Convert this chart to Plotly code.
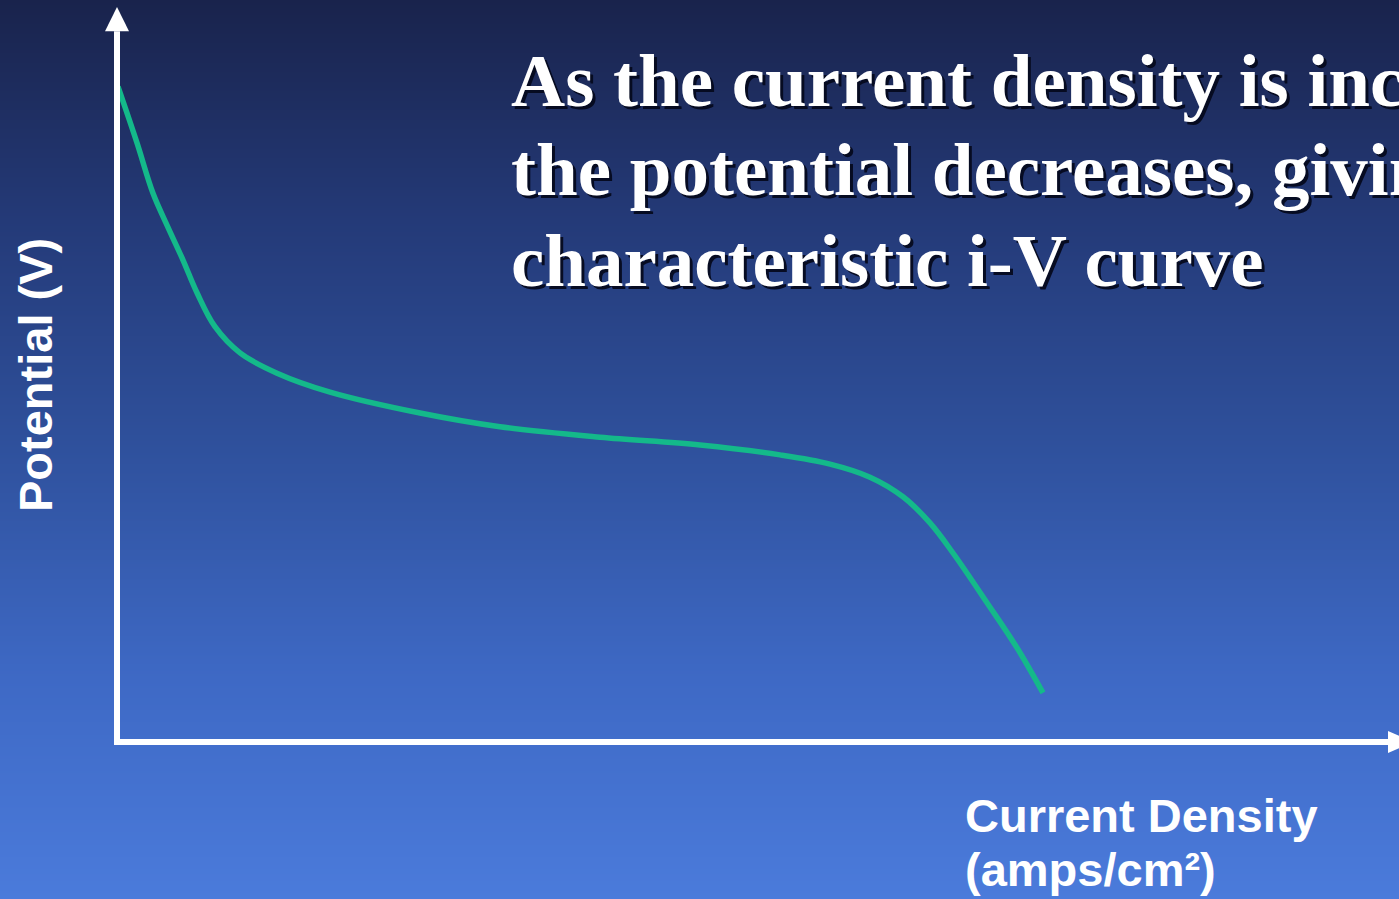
import plotly.graph_objects as go

# i-V curve of a fuel cell (current density in A/cm^2, potential in V)
current_density = [0.001, 0.020, 0.036, 0.051, 0.066, 0.080, 0.098, 0.123, 0.160, 0.213,
                   0.303, 0.383, 0.483, 0.583, 0.663, 0.713, 0.753, 0.786, 0.813, 0.836,
                   0.870, 0.900, 0.926]
potential = [1.002, 0.916, 0.839, 0.787, 0.737, 0.687, 0.635, 0.595, 0.564, 0.535,
             0.503, 0.482, 0.466, 0.454, 0.439, 0.425, 0.405, 0.375, 0.335, 0.289,
             0.213, 0.144, 0.075]

title_lines = ["As the current density is increased,",
               "the potential decreases, giving a",
               "characteristic i-V curve"]
x_title_lines = ["Current Density", "(amps/cm²)"]
y_title = "Potential (V)"

W, H = 1399, 899
X_RANGE = [-0.117, 1.282]
Y_RANGE = [-0.2401, 1.1346]

# background gradient (dark navy at top to bright blue at bottom)
bg_scale = [[0.0, "#4b7bdb"], [0.245, "#3e69c5"], [0.5, "#2f519d"],
            [0.755, "#243a78"], [1.0, "#19234c"]]
n_rows = 40
bg_y = [Y_RANGE[0] + (Y_RANGE[1] - Y_RANGE[0]) * i / (n_rows - 1) for i in range(n_rows)]
bg_z = [[i / (n_rows - 1)] * 2 for i in range(n_rows)]

fig = go.Figure()
fig.add_trace(go.Heatmap(x=[X_RANGE[0] - 0.05, X_RANGE[1] + 0.05], y=bg_y, z=bg_z,
                         colorscale=bg_scale, zmin=0, zmax=1, zsmooth="best",
                         showscale=False, hoverinfo="skip"))
fig.add_trace(go.Scatter(x=current_density, y=potential, mode="lines",
                         line=dict(color="#14b98a", width=5.5, shape="spline", smoothing=1.0),
                         hoverinfo="skip"))

white = "#ffffff"
# axes with arrowheads
fig.add_shape(type="line", x0=0, x1=0, y0=-0.004, y1=1.087, xref="x", yref="y",
              line=dict(color=white, width=6))
fig.add_shape(type="path", path="M -0.012 1.087 L 0.012 1.087 L 0 1.124 Z",
              xref="x", yref="y", fillcolor=white, line=dict(width=0))
fig.add_shape(type="line", x0=-0.003, x1=1.271, y0=0, y1=0, xref="x", yref="y",
              line=dict(color=white, width=6))
fig.add_shape(type="path", path="M 1.271 -0.0168 L 1.271 0.0168 L 1.296 0 Z",
              xref="x", yref="y", fillcolor=white, line=dict(width=0))

serif = dict(family="Liberation Serif", size=75, color=white, weight="bold",
             shadow="3px 3px 0px rgba(5,10,30,0.95)")
for line, yc in zip(title_lines, [81, 170, 260]):
    fig.add_annotation(text=line, xref="paper", yref="paper", x=509 / W, y=1 - yc / H,
                       xanchor="left", yanchor="middle", showarrow=False, font=serif)

sans = dict(family="Liberation Sans", size=47, color=white, weight="bold")
for line, yc in zip(x_title_lines, [815, 869]):
    fig.add_annotation(text=line, xref="paper", yref="paper", x=963 / W, y=1 - yc / H,
                       xanchor="left", yanchor="middle", showarrow=False, font=sans)
fig.add_annotation(text=y_title, xref="paper", yref="paper", x=35 / W, y=1 - 375 / H,
                   xanchor="center", yanchor="middle", textangle=-90, showarrow=False, font=sans)

fig.update_layout(width=W, height=H, margin=dict(l=0, r=0, t=0, b=0),
                  paper_bgcolor="#2f519d", plot_bgcolor="#2f519d", showlegend=False,
                  xaxis=dict(range=X_RANGE, visible=False, fixedrange=True),
                  yaxis=dict(range=Y_RANGE, visible=False, fixedrange=True))

fig.write_html("out.html")
